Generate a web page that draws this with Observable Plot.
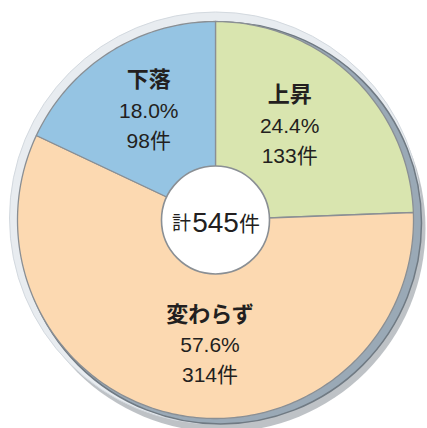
<!DOCTYPE html>
<html>
<head>
<meta charset="utf-8">
<script src="https://cdn.jsdelivr.net/npm/d3@7"></script>
<script src="https://cdn.jsdelivr.net/npm/@observablehq/plot@0.6"></script>
<style>
  html, body { margin: 0; padding: 0; background: #ffffff; }
  #chart { width: 427px; height: 428px; }
</style>
</head>
<body>
<div id="chart"></div>
<script>
// ---- data ----
const categories = ["上昇", "変わらず", "下落"];
const counts = [133, 314, 98];
const percents = [24.4, 57.6, 18.0];
const total = 545;
const sliceColors = ["#d9e5af", "#fcd9b1", "#95c4e3"];

// ---- derived geometry (unit circle, angle clockwise from top) ----
const slices = [];
let acc = 0;
categories.forEach((name, i) => {
  const start = acc / 100 * 2 * Math.PI;
  acc += percents[i];
  const end = acc / 100 * 2 * Math.PI;
  slices.push({name, count: counts[i], pct: percents[i], start, end, mid: (start + end) / 2});
});

const polyPoints = [];
for (const s of slices) {
  polyPoints.push({name: s.name, x: 0, y: 0});
  const steps = Math.max(2, Math.ceil((s.end - s.start) / (Math.PI / 180)));
  for (let k = 0; k <= steps; k++) {
    const a = s.start + (s.end - s.start) * k / steps;
    polyPoints.push({name: s.name, x: Math.sin(a), y: Math.cos(a)});
  }
}

const labelRadius = 0.62;
const labels = slices.map(s => ({
  name: s.name,
  pctText: s.pct.toFixed(1) + "%",
  countText: s.count + "件",
  x: labelRadius * Math.sin(s.mid),
  y: labelRadius * Math.cos(s.mid)
}));

// label nudges (style, pixels)
const nudge = {"上昇": [-11, -5], "変わらず": [19, 5], "下落": [-1, -5]};

const font = "'Liberation Sans', Arial, 'Noto Sans CJK JP', sans-serif";
const ink = "#231f20";
const edge = "#8a8f94";
const R = 198;

const marks = [
  // soft shadow
  Plot.dot([{x: 0, y: 0}], {x: "x", y: "y", r: R + 6, dx: 6, dy: 8, fill: "#6f7880", fillOpacity: 0.45, stroke: "none", ariaLabel: "shadow"}),
  // light rim
  Plot.dot([{x: 0, y: 0}], {x: "x", y: "y", r: R + 8, dx: 0, dy: -2, fill: "#e8ecf0", stroke: "#d3d9df", strokeWidth: 1}),
  // dark rim
  Plot.dot([{x: 0, y: 0}], {x: "x", y: "y", r: R + 3, dx: 5, dy: 3, fill: "#9aa9b6", stroke: "#707a83", strokeWidth: 1.5}),
  // slices
  Plot.line(polyPoints, {x: "x", y: "y", z: "name", fill: "name", stroke: edge, strokeWidth: 1.3, curve: "linear-closed"}),
  // center hole
  Plot.dot([{x: 0, y: 0}], {x: "x", y: "y", r: 54, fill: "#ffffff", stroke: edge, strokeWidth: 1.6}),
  Plot.text([total], {x: () => 0, y: () => 0, text: d => String(d), fontSize: 28, fontFamily: font, fill: ink, dy: 3}),
  Plot.text(["計"], {x: () => 0, y: () => 0, text: d => d, fontSize: 19, fontFamily: font, fill: ink, dx: -34, dy: 4}),
  Plot.text(["件"], {x: () => 0, y: () => 0, text: d => d, fontSize: 21, fontFamily: font, fill: ink, dx: 34, dy: 4})
];

for (const l of labels) {
  const [nx, ny] = nudge[l.name];
  marks.push(
    Plot.text([l], {x: "x", y: "y", text: "name", fontSize: 22, fontWeight: "bold", fontFamily: font, fill: ink, dx: nx, dy: ny - 31}),
    Plot.text([l], {x: "x", y: "y", text: "pctText", fontSize: 21, fontFamily: font, fill: ink, dx: nx, dy: ny}),
    Plot.text([l], {x: "x", y: "y", text: "countText", fontSize: 21, fontFamily: font, fill: ink, dx: nx, dy: ny + 30})
  );
}

const chart = Plot.plot({
  width: 427,
  height: 428,
  marginLeft: 17,
  marginRight: 14,
  marginTop: 21,
  marginBottom: 10,
  x: {domain: [-1, 1], axis: null},
  y: {domain: [-1, 1], axis: null},
  color: {domain: categories, range: sliceColors},
  style: {background: "#ffffff", overflow: "visible"},
  marks
});

// blur filter for the shadow
const svg = d3.select(chart);
const defs = svg.insert("defs", ":first-child");
defs.append("filter").attr("id", "softShadow").attr("x", "-20%").attr("y", "-20%").attr("width", "140%").attr("height", "140%")
  .append("feGaussianBlur").attr("stdDeviation", 4);
svg.select('g[aria-label="shadow"]').attr("filter", "url(#softShadow)");

document.getElementById("chart").appendChild(chart);
</script>
</body>
</html>
